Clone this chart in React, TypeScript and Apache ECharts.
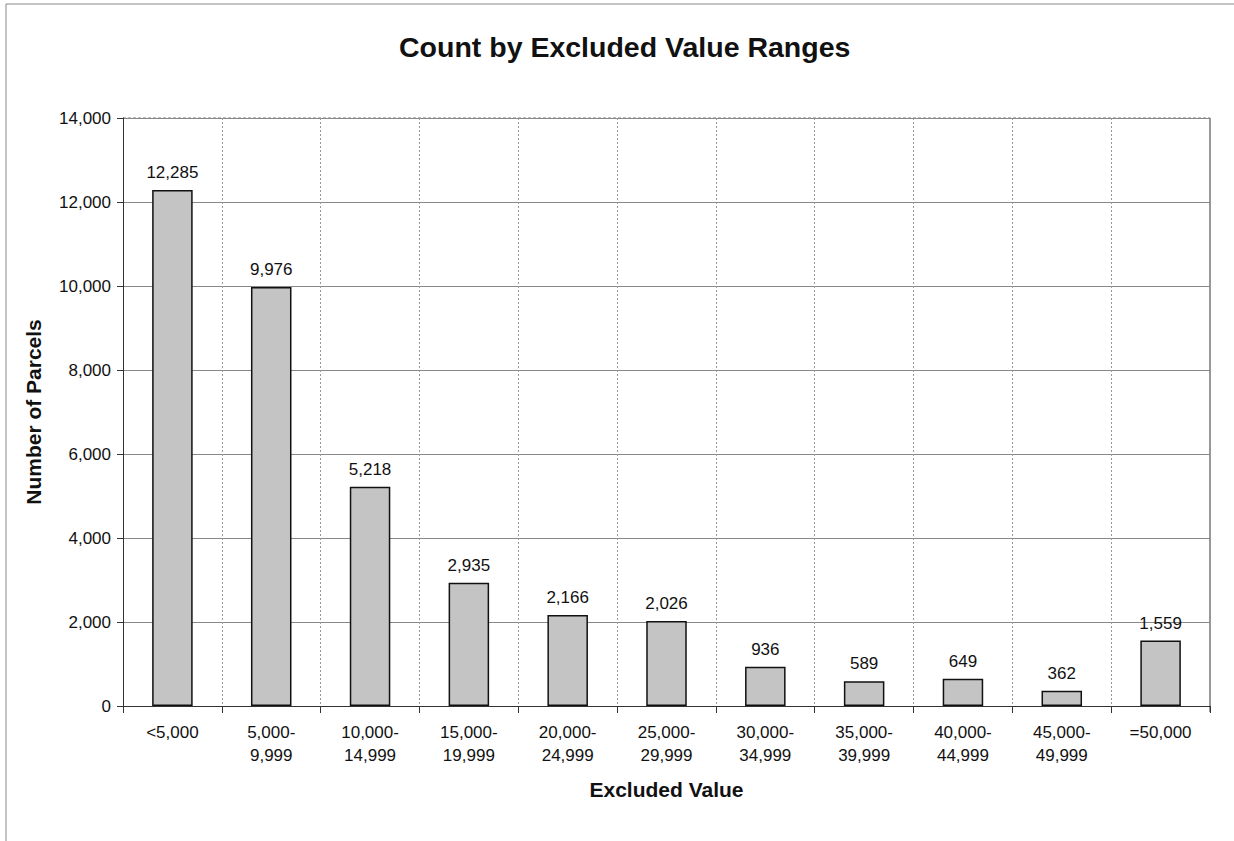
import React, { useEffect, useRef } from "react";
import * as echarts from "echarts";

const categories = ["<5,000", "5,000-\n9,999", "10,000-\n14,999", "15,000-\n19,999", "20,000-\n24,999", "25,000-\n29,999", "30,000-\n34,999", "35,000-\n39,999", "40,000-\n44,999", "45,000-\n49,999", "=50,000"];
const counts = [12285, 9976, 5218, 2935, 2166, 2026, 936, 589, 649, 362, 1559];
const titleText = "Count by Excluded Value Ranges";
const yName = "Number of Parcels";
const xName = "Excluded Value";

const FONT = "'Liberation Sans', Arial, sans-serif";

export default function App() {
  const ref = useRef<HTMLDivElement>(null);
  useEffect(() => {
    if (!ref.current) return;
    const chart = echarts.init(ref.current, null, { renderer: "svg" });
    chart.setOption({
      animation: false,
      backgroundColor: "#ffffff",
      title: {
        text: titleText,
        left: 394,
        top: 27,
        textStyle: { fontFamily: FONT, fontSize: 28.5, fontWeight: "bold", color: "#111" },
      },
      graphic: [
        { type: "line", shape: { x1: 6, y1: 4, x2: 1234, y2: 4 }, style: { stroke: "#888", lineWidth: 1 } },
        { type: "line", shape: { x1: 6, y1: 4, x2: 6, y2: 841 }, style: { stroke: "#888", lineWidth: 1 } },
        { type: "line", shape: { x1: 1210, y1: 118, x2: 1210, y2: 712 }, style: { stroke: "#333", lineWidth: 1 } },
        { type: "line", shape: { x1: 123, y1: 118, x2: 1210, y2: 118 }, style: { stroke: "#777", lineWidth: 1, lineDash: [3, 2] } },
      ],
      grid: { left: 123, right: 24, top: 118, bottom: 135, containLabel: false },
      xAxis: {
        type: "category",
        data: categories,
        name: xName,
        nameLocation: "middle",
        nameGap: 73,
        nameTextStyle: { fontFamily: FONT, fontSize: 21, fontWeight: "bold", color: "#111" },
        axisLine: { show: true, lineStyle: { color: "#333", width: 1 } },
        axisTick: { show: true, alignWithLabel: false, length: 7, lineStyle: { color: "#333" } },
        axisLabel: { fontFamily: FONT, fontSize: 17, color: "#111", margin: 15, lineHeight: 23, interval: 0 },
        splitLine: { show: true, lineStyle: { color: "#999", type: [2, 2], width: 1 } },
      },
      yAxis: {
        type: "value",
        min: 0,
        max: 14000,
        interval: 2000,
        name: yName,
        nameLocation: "middle",
        nameGap: 79,
        nameTextStyle: { fontFamily: FONT, fontSize: 21, fontWeight: "bold", color: "#111" },
        axisLine: { show: true, lineStyle: { color: "#333", width: 1 } },
        axisTick: { show: true, length: 6, lineStyle: { color: "#333" } },
        axisLabel: {
          fontFamily: FONT,
          fontSize: 17,
          color: "#111",
          margin: 12,
          formatter: (v: number) => v.toLocaleString("en-US"),
        },
        splitLine: { show: true, lineStyle: { color: "#888", width: 1 } },
      },
      series: [
        {
          type: "bar",
          data: counts,
          barWidth: "41%",
          itemStyle: { color: "#c4c4c4", borderColor: "#111", borderWidth: 1.5 },
          label: {
            show: true,
            position: "top",
            distance: 9,
            fontFamily: FONT,
            fontSize: 17,
            color: "#111",
            formatter: (p: any) => Number(p.value).toLocaleString("en-US"),
          },
        },
      ],
    });
    return () => chart.dispose();
  }, []);
  return <div ref={ref} style={{ width: 1234, height: 841, position: "absolute", left: 0, top: 0 }} />;
}
